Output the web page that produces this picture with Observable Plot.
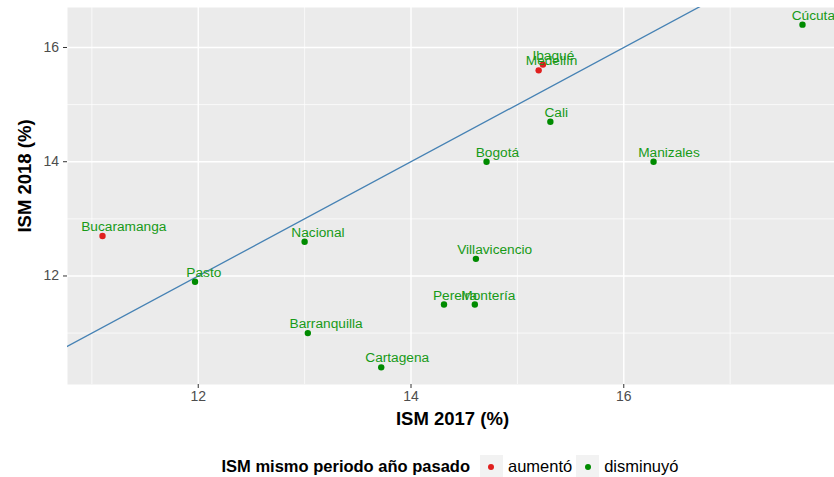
<!DOCTYPE html>
<html>
<head>
<meta charset="utf-8">
<script src="https://cdn.jsdelivr.net/npm/d3@7"></script>
<script src="https://cdn.jsdelivr.net/npm/@observablehq/plot@0.6"></script>
<style>
  body { margin: 0; background: #fff; font-family: "Liberation Sans", Arial, Helvetica, sans-serif; overflow: hidden; }
  #chart { position: relative; width: 834px; height: 477px; overflow: hidden; }
  #chart svg { display: block; }
  .legend { position: absolute; left: 67px; width: 770px; top: 455px; height: 23px; display: flex; align-items: center; justify-content: center; font-size: 16.5px; color: #000; }
  .legend .ttl { font-weight: bold; margin-right: 10px; }
  .legend .key { width: 23px; height: 23px; background: #F2F2F2; display: flex; align-items: center; justify-content: center; margin-right: 5px; }
  .legend .key span { width: 6px; height: 6px; border-radius: 50%; display: block; }
  .legend .lab { margin-right: 4px; }
</style>
</head>
<body>
<div id="chart"></div>
<script>
// ---- data ----
const cities  = ["Bucaramanga", "Nacional", "Pasto", "Barranquilla", "Cartagena", "Villavicencio", "Pereira", "Montería", "Bogotá", "Manizales", "Cali", "Medellín", "Ibagué", "Cúcuta"];
const ism2017 = [11.10, 13.00, 11.97, 13.03, 13.72, 14.61, 14.31, 14.60, 14.71, 16.28, 15.31, 15.20, 15.24, 17.68];
const ism2018 = [12.70, 12.60, 11.90, 11.00, 10.40, 12.30, 11.50, 11.50, 14.00, 14.00, 14.70, 15.60, 15.70, 16.40];
const cambio  = ["aumentó", "disminuyó", "disminuyó", "disminuyó", "disminuyó", "disminuyó", "disminuyó", "disminuyó", "disminuyó", "disminuyó", "disminuyó", "aumentó", "aumentó", "disminuyó"];
const categorias = ["aumentó", "disminuyó"];
const coloresPunto = ["#e0201f", "#008b00"];
const colorEtiqueta = "#179a17";
const xMajor = [12, 14, 16];
const xMinor = [11, 13, 15, 17];
const yMajor = [12, 14, 16];
const yMinor = [11, 13, 15];
const xTitle = "ISM 2017 (%)";
const yTitle = "ISM 2018 (%)";
const legendTitle = "ISM mismo periodo año pasado";

// ---- build ----
const data = cities.map((c, i) => ({ciudad: c, x: ism2017[i], y: ism2018[i], cambio: cambio[i]}));
function expand(v) { const [a, b] = d3.extent(v); const p = (b - a) * 0.05; return [a - p, b + p]; }
const xDomain = expand(ism2017);
const yDomain = expand(ism2018);
const refLine = [Math.min(xDomain[0], yDomain[0]), Math.max(xDomain[1], yDomain[1])];
const FONT = '"Liberation Sans", Arial, Helvetica, sans-serif';
const fmt = d => String(d);

const plot = Plot.plot({
  width: 834,
  height: 436,
  marginLeft: 67,
  marginRight: -3,
  marginTop: 7,
  marginBottom: 52,
  style: {fontFamily: FONT, background: "transparent", overflow: "hidden"},
  x: {domain: xDomain},
  y: {domain: yDomain},
  color: {domain: categorias, range: coloresPunto},
  marks: [
    Plot.frame({fill: "#EBEBEB", stroke: null}),
    Plot.ruleX(xMinor, {stroke: "white", strokeWidth: 0.7}),
    Plot.ruleY(yMinor, {stroke: "white", strokeWidth: 0.7}),
    Plot.ruleX(xMajor, {stroke: "white", strokeWidth: 1.4}),
    Plot.ruleY(yMajor, {stroke: "white", strokeWidth: 1.4}),
    Plot.axisX(xMajor, {tickSize: 4, tickPadding: 3, fontSize: 14, stroke: "#333", fill: "#4d4d4d", label: null, tickFormat: fmt}),
    Plot.axisY(yMajor, {tickSize: 4, tickPadding: 4.5, fontSize: 14, stroke: "#333", fill: "#4d4d4d", label: null, tickFormat: fmt}),
    Plot.line(refLine, {x: d => d, y: d => d, stroke: "#4682B4", strokeWidth: 1.3, clip: true}),
    Plot.dot(data, {x: "x", y: "y", fill: "cambio", r: 3.2, stroke: null}),
    Plot.text(data, {x: "x", y: "y", text: "ciudad", fill: colorEtiqueta, fontSize: 13.7, textAnchor: "middle", lineAnchor: "bottom", dy: -5, ariaDescription: "city-labels"}),
    Plot.text([xTitle], {text: d => d, frameAnchor: "bottom", textAnchor: "middle", lineAnchor: "middle", dy: 34.3, fontSize: 18.5, fontWeight: "bold", fill: "#000"}),
    Plot.text([yTitle], {text: d => d, frameAnchor: "left", textAnchor: "middle", lineAnchor: "middle", rotate: -90, dx: -42, dy: -20, fontSize: 18.5, fontWeight: "bold", fill: "#000"})
  ]
});

const chart = document.getElementById("chart");
chart.appendChild(plot);

// ggplot-style hjust = 0.25 for the city labels
plot.querySelectorAll('g[aria-description="city-labels"] text').forEach(t => {
  t.setAttribute("x", 0.25 * t.getComputedTextLength());
});

// legend
const leg = document.createElement("div");
leg.className = "legend";
const ttl = document.createElement("div");
ttl.className = "ttl";
ttl.textContent = legendTitle;
leg.appendChild(ttl);
categorias.forEach((c, i) => {
  const key = document.createElement("div");
  key.className = "key";
  const dot = document.createElement("span");
  dot.style.background = coloresPunto[i];
  key.appendChild(dot);
  leg.appendChild(key);
  const lab = document.createElement("div");
  lab.className = "lab";
  lab.textContent = c;
  leg.appendChild(lab);
});
chart.appendChild(leg);
</script>
</body>
</html>
